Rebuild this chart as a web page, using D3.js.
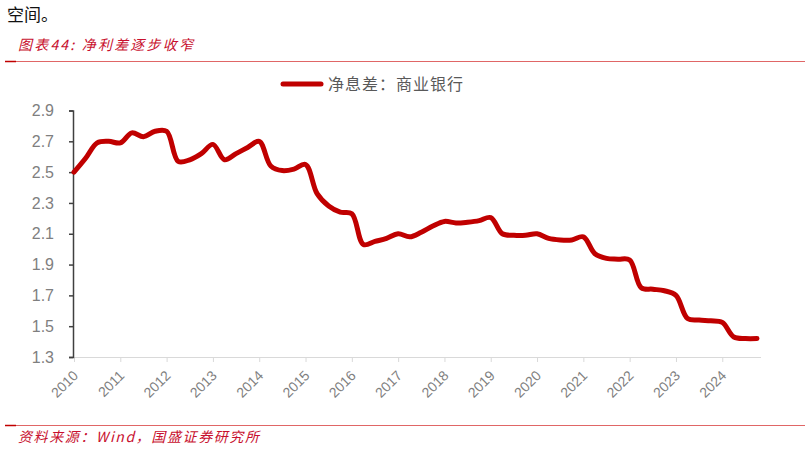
<!DOCTYPE html>
<html>
<head>
<meta charset="utf-8">
<script src="https://cdn.jsdelivr.net/npm/d3@7"></script>
<style>
  body { margin: 0; background: #fff; }
  svg { display: block; }
</style>
</head>
<body>
<div id="chart"></div>
<script>
// years shown on the x axis, one label every 4 quarters
const years = ['2010', '2011', '2012', '2013', '2014', '2015', '2016', '2017',
    '2018', '2019', '2020', '2021', '2022', '2023', '2024'];

// quarterly categories (Q1..Q4 of every year)
const quarters = [];
years.forEach(y => ['Q1', 'Q2', 'Q3', 'Q4'].forEach(q => quarters.push(y + q)));

// net interest margin of commercial banks (%)
const nim = [
    2.50, 2.59, 2.69, 2.70, 2.69, 2.755, 2.73, 2.765,
    2.765, 2.57, 2.58, 2.62, 2.68, 2.58, 2.62, 2.66,
    2.70, 2.54, 2.51, 2.52, 2.55, 2.36, 2.28, 2.24,
    2.23, 2.03, 2.05, 2.07, 2.10, 2.08, 2.11, 2.15,
    2.18, 2.17, 2.175, 2.185, 2.205, 2.10, 2.09, 2.09,
    2.10, 2.07, 2.06, 2.06, 2.08, 1.97, 1.94, 1.935,
    1.93, 1.75, 1.74, 1.73, 1.70, 1.55, 1.54, 1.535,
    1.525, 1.43, 1.42, 1.42
];

const yTicks = [1.3, 1.5, 1.7, 1.9, 2.1, 2.3, 2.5, 2.7, 2.9];

const width = 810;
const height = 450;
const red = '#c00000';
const cjk = '"Noto Sans CJK SC", "Noto Sans", sans-serif';

const svg = d3.select('#chart')
    .append('svg')
    .attr('width', width)
    .attr('height', height);

// text carried over from the report above the chart
svg.append('text')
    .attr('x', 7)
    .attr('y', 21)
    .text('空间。')
    .style('font-family', cjk)
    .style('font-size', '17px')
    .style('fill', '#111');

// chart title + rule
svg.append('text')
    .attr('x', 18)
    .attr('y', 50)
    .text('图表44:  净利差逐步收窄')
    .style('font-family', cjk)
    .style('font-style', 'italic')
    .style('font-size', '14px')
    .style('letter-spacing', '2.2px')
    .style('fill', '#c8102e');

svg.append('line')
    .attr('x1', 5).attr('x2', 805)
    .attr('y1', 61.5).attr('y2', 61.5)
    .style('stroke', '#e06666')
    .style('stroke-width', 1);
svg.append('line')
    .attr('x1', 5).attr('x2', 16)
    .attr('y1', 61.5).attr('y2', 61.5)
    .style('stroke', '#c00000')
    .style('stroke-width', 1.5);

// footer rule + source
svg.append('line')
    .attr('x1', 5).attr('x2', 805)
    .attr('y1', 425.5).attr('y2', 425.5)
    .style('stroke', '#e06666')
    .style('stroke-width', 1);
svg.append('line')
    .attr('x1', 5).attr('x2', 16)
    .attr('y1', 425.5).attr('y2', 425.5)
    .style('stroke', '#c00000')
    .style('stroke-width', 1.5);

svg.append('text')
    .attr('x', 18)
    .attr('y', 442)
    .text('资料来源：Wind，国盛证券研究所')
    .style('font-family', cjk)
    .style('font-style', 'italic')
    .style('font-size', '14px')
    .style('letter-spacing', '1.6px')
    .style('fill', '#c8102e');

// scales
const x = d3.scalePoint()
    .domain(quarters)
    .range([74, 757]);

const y = d3.scaleLinear()
    .domain([1.3, 2.9])
    .range([357, 110.5]);

// x axis (light grey)
const xAxis = svg.append('g')
    .attr('transform', 'translate(0,357)')
    .call(d3.axisBottom(x)
        .tickValues(quarters.filter((d, i) => i % 4 === 0))
        .tickFormat(d => d.slice(0, 4))
        .tickSize(5)
        .tickSizeOuter(0));
xAxis.select('.domain')
    .attr('d', 'M73,0.5H761')
    .style('stroke', '#d9d9d9');
xAxis.selectAll('.tick line')
    .style('stroke', '#d9d9d9');
xAxis.selectAll('.tick text')
    .attr('text-anchor', 'end')
    .attr('x', 0)
    .attr('y', 0)
    .attr('dy', '0.35em')
    .attr('transform', 'translate(1,16) rotate(-45)')
    .style('font-family', '"Liberation Sans", Arial, sans-serif')
    .style('font-size', '14px')
    .style('fill', '#7f7f7f');

// y axis (dark)
const yAxis = svg.append('g')
    .attr('transform', 'translate(73,0)')
    .call(d3.axisLeft(y)
        .tickValues(yTicks)
        .tickFormat(d3.format('.1f'))
        .tickSize(4)
        .tickSizeOuter(4)
        .tickPadding(4));
yAxis.select('.domain')
    .style('stroke', '#404040')
    .style('stroke-width', 1.5);
yAxis.selectAll('.tick line')
    .style('stroke', '#404040')
    .style('stroke-width', 1.5);
yAxis.selectAll('.tick text')
    .attr('x', -19)
    .style('font-family', '"Liberation Sans", Arial, sans-serif')
    .style('font-size', '16px')
    .style('fill', '#7f7f7f');

// the series
const line = d3.line()
    .x((d, i) => x(quarters[i]))
    .y(d => y(d))
    .curve(d3.curveCatmullRom.alpha(0.5));

svg.append('path')
    .datum(nim)
    .attr('d', line)
    .style('fill', 'none')
    .style('stroke', red)
    .style('stroke-width', 5)
    .style('stroke-linejoin', 'round')
    .style('stroke-linecap', 'round');

// legend
svg.append('line')
    .attr('x1', 283).attr('x2', 321)
    .attr('y1', 84).attr('y2', 84)
    .style('stroke', red)
    .style('stroke-width', 5)
    .style('stroke-linecap', 'round');

svg.append('text')
    .attr('x', 328)
    .attr('y', 90)
    .text('净息差：商业银行')
    .style('font-family', cjk)
    .style('font-size', '16px')
    .style('letter-spacing', '1px')
    .style('fill', '#595959');
</script>
</body>
</html>
